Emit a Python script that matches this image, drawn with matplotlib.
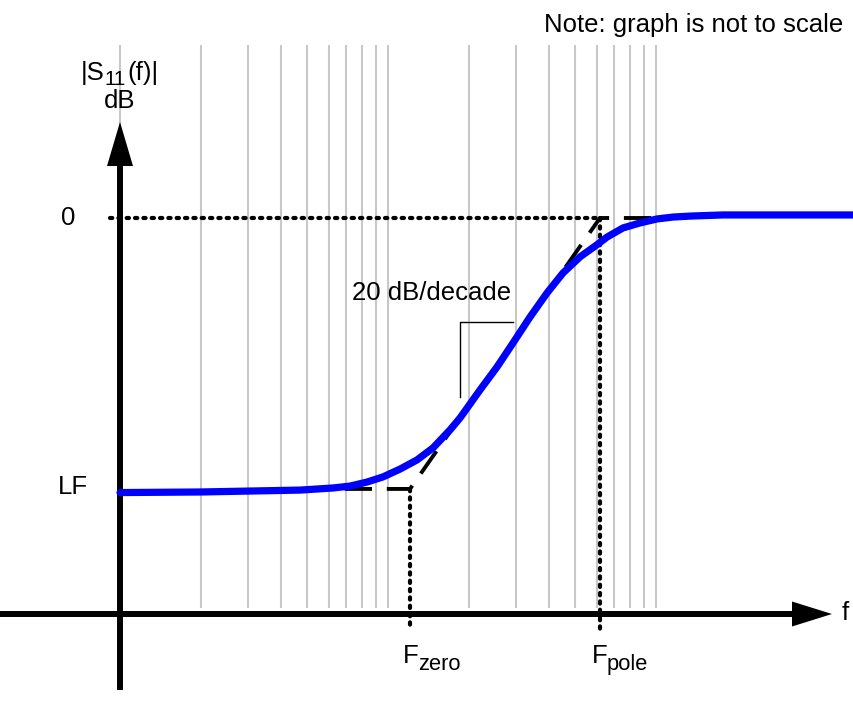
import matplotlib.pyplot as plt

plt.rcParams['font.family'] = ['Liberation Sans', 'DejaVu Sans']

# frequency grid: two decades
grid_f = [k * 10 ** d for d in (0, 1) for k in range(1, 10)] + [100]

# corner frequencies and low-frequency level
f_zero = 12.08
f_pole = 61.8
lf_db = -14.2

# |S11| curve
curve_f = [1.0, 1.99, 4.70, 6.23, 7.22, 8.35, 9.58, 11.09, 12.83, 14.72, 17.03,
           18.57, 22.05, 25.51, 29.27, 33.88, 39.20, 44.98, 52.05, 60.25, 65.65,
           75.33, 87.17, 100.9, 115.7, 134.0, 177.8, 548.0]
curve_db = [-14.39, -14.36, -14.26, -14.15, -14.05, -13.84, -13.57, -13.16, -12.68,
            -12.05, -11.11, -10.48, -9.01, -7.81, -6.55, -5.19, -3.93, -2.88, -2.04,
            -1.40, -1.00, -0.52, -0.26, -0.05, 0.05, 0.10, 0.16, 0.16]

# straight-line asymptote
asym_f = [6.9, f_zero, f_pole, 130]
asym_db = [lf_db, lf_db, 0, 0]

# layout mapping (pixel -> data), used for decorations only
PX_DEC = 268.0
PX_DB = 19.08


def px2f(x):
    return 10 ** ((x - 120) / PX_DEC)


def px2db(y):
    return (218 - y) / PX_DB


fig = plt.figure(figsize=(8.54, 7.15), dpi=100)
ax = fig.add_axes([0, 0, 1, 1])
ax.set_xscale('log')
ax.set_xlim(px2f(0), px2f(854))
ax.set_ylim(px2db(715), px2db(0))
ax.axis('off')

# gray decade grid
ax.vlines(grid_f, px2db(608), px2db(45), color='#c8c8c8', lw=1.5, zorder=1)

# axes with arrow heads
ax.plot([1, 1], [px2db(690), px2db(160)], color='k', lw=4.3, zorder=3,
        solid_capstyle='butt')
ax.fill([px2f(107), px2f(133), 1], [px2db(166), px2db(166), px2db(122)],
        color='k', zorder=3, lw=0)
ax.plot([px2f(0), px2f(795)], [px2db(614), px2db(614)], color='k', lw=4.3,
        zorder=3, solid_capstyle='butt')
ax.fill([px2f(792), px2f(792), px2f(832)], [px2db(601.5), px2db(626.5), px2db(614)],
        color='k', zorder=3, lw=0)

# dotted reference lines
dot = dict(color='k', lw=3.0, linestyle=(0, (0.55, 1.45)), dash_capstyle='round', zorder=4)
ax.plot([px2f(110), f_pole], [0, 0], **dot)
ax.plot([f_zero, f_zero], [lf_db, px2db(630)], **dot)
ax.plot([f_pole, f_pole], [0, px2db(630)], **dot)

# asymptote
ax.plot(asym_f, asym_db, color='k', lw=2.8, linestyle=(0, (7, 3.8)), zorder=4)

# response
ax.plot(curve_f, curve_db, color='#0000ff', lw=5.2, zorder=5,
        solid_capstyle='round', solid_joinstyle='round')

# slope marker
ax.plot([px2f(460), px2f(460), px2f(513)], [px2db(397), px2db(322), px2db(322)],
        color='k', lw=1.0, zorder=4)

fs = 18.5
ax.text(px2f(432), px2db(293), '20 dB/decade', ha='center', va='center', fontsize=fs)
ax.text(px2f(68), 0, '0', ha='center', va='center', fontsize=fs)
ax.text(px2f(73), px2db(487), 'LF', ha='center', va='center', fontsize=fs)
ax.text(px2f(81), px2db(80), '|S', ha='left', va='baseline', fontsize=fs)
ax.text(px2f(104), px2db(85), '11', ha='left', va='baseline', fontsize=fs * 0.8)
ax.text(px2f(127), px2db(80), '(f)|', ha='left', va='baseline', fontsize=fs)
ax.text(1, px2db(101), 'dB', ha='center', va='center', fontsize=fs)
ax.text(px2f(845), px2db(613), 'f', ha='center', va='center', fontsize=fs)
ax.text(px2f(403), px2db(663), 'F', ha='left', va='baseline', fontsize=fs)
ax.text(px2f(418), px2db(670), 'zero', ha='left', va='baseline', fontsize=fs * 0.85)
ax.text(px2f(592), px2db(663), 'F', ha='left', va='baseline', fontsize=fs)
ax.text(px2f(607), px2db(670), 'pole', ha='left', va='baseline', fontsize=fs * 0.85)
fig.text(843 / 854, 1 - 25 / 715, 'Note: graph is not to scale', ha='right',
         va='center', fontsize=fs)

fig.savefig('out.png', dpi=100)
